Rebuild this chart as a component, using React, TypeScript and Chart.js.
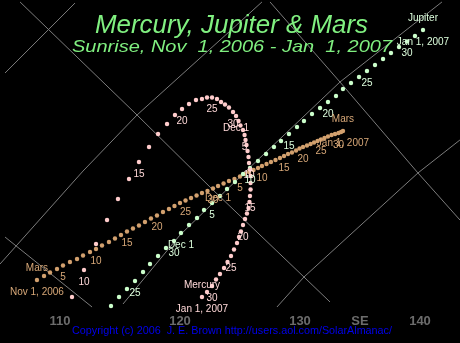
import React, { useEffect, useRef } from 'react';
import { Chart, registerables } from 'chart.js';

Chart.register(...registerables);

// Azimuth (deg) / altitude (deg) of each planet at sunrise, one point per day
// Mercury: Nov 9, 2006 .. Jan 1, 2007
const MERCURY_AZ = [
  111.0, 112.0, 113.0, 113.92, 114.83, 115.75, 116.58, 117.42, 118.17, 118.92, 119.58, 120.17,
  120.75, 121.33, 121.83, 122.25, 122.67, 123.08, 123.42, 123.75, 124.08, 124.42,
  124.67, 124.88, 125.04, 125.25, 125.38, 125.46, 125.54, 125.63, 125.71, 125.75, 125.83,
  125.88, 125.88, 125.88, 125.83, 125.79, 125.71, 125.58, 125.42, 125.25, 125.08, 124.92,
  124.75, 124.5, 124.25, 123.96, 123.67, 123.33, 123.0, 122.67, 122.25, 121.83,
];
const MERCURY_ALT = [
  1.33, 3.58, 5.75, 7.75, 9.5, 11.17, 12.58, 13.83, 14.92, 15.75, 16.5, 17.0,
  17.42, 17.75, 17.83, 17.96, 17.96, 17.83, 17.58, 17.38, 17.13, 16.75,
  16.42, 16.0, 15.63, 15.25, 14.83, 14.42, 14.0, 13.5, 13.0, 12.5, 11.96,
  11.42, 10.83, 10.29, 9.75, 9.25, 8.75, 8.29, 7.83, 7.33, 6.79, 6.33,
  5.83, 5.29, 4.75, 4.25, 3.75, 3.25, 2.79, 2.25, 1.75, 1.33,
];
// Jupiter: Nov 22, 2006 .. Jan 1, 2007
const JUPITER_AZ = [
  114.25, 114.92, 115.58, 116.25, 116.92, 117.5, 118.17, 118.83, 119.5,
  120.08, 120.75, 121.42, 122.0, 122.67, 123.33, 123.92, 124.58, 125.25, 125.83,
  126.5, 127.17, 127.83, 128.42, 129.08, 129.75, 130.33, 131.0, 131.67, 132.33,
  133.0, 133.58, 134.25, 134.92, 135.58, 136.25, 136.92, 137.58, 138.25, 138.92,
  139.58, 140.25,
];
const JUPITER_ALT = [
  0.58, 1.33, 2.0, 2.67, 3.42, 4.08, 4.75, 5.42, 6.0,
  6.67, 7.33, 7.92, 8.58, 9.17, 9.75, 10.33, 10.92, 11.58, 12.08,
  12.67, 13.25, 13.83, 14.33, 14.92, 15.5, 16.0, 16.58, 17.08, 17.58,
  18.08, 18.67, 19.17, 19.67, 20.17, 20.67, 21.17, 21.67, 22.17, 22.63,
  23.08, 23.58,
];
// Mars: Nov 1, 2006 .. Jan 1, 2007
const MARS_AZ = [
  108.08, 108.67, 109.17, 109.75, 110.25, 110.83, 111.42, 111.92, 112.5, 113.0,
  113.5, 114.08, 114.58, 115.08, 115.58, 116.08, 116.58, 117.08, 117.58, 118.08,
  118.58, 119.08, 119.54, 120.0, 120.46, 120.92, 121.38, 121.83, 122.29, 122.75,
  123.17, 123.63, 124.08, 124.54, 125.0, 125.38, 125.75, 126.13, 126.5, 126.83,
  127.21, 127.58, 127.96, 128.33, 128.67, 129.0, 129.33, 129.67, 129.96, 130.25,
  130.58, 130.88, 131.17, 131.46, 131.75, 132.04, 132.33, 132.63, 132.92, 133.21,
  133.42, 133.58,
];
const MARS_ALT = [
  2.75, 3.08, 3.38, 3.67, 3.96, 4.25, 4.5, 4.79, 5.08, 5.33,
  5.63, 5.92, 6.21, 6.5, 6.79, 7.04, 7.29, 7.58, 7.88, 8.13,
  8.42, 8.67, 8.92, 9.17, 9.38, 9.58, 9.79, 10.0, 10.17, 10.38,
  10.58, 10.79, 11.0, 11.17, 11.38, 11.58, 11.75, 11.92, 12.08, 12.25,
  12.42, 12.58, 12.75, 12.92, 13.08, 13.25, 13.38, 13.54, 13.71, 13.83,
  13.96, 14.08, 14.21, 14.33, 14.46, 14.58, 14.71, 14.83, 14.92, 15.0,
  15.08, 15.17,
];

// Date labels: [point index, text]
const MERCURY_LABELS: [number, string][] = [
  [1, '10'], [6, '15'], [11, '20'], [16, '25'], [21, '30'], [22, 'Dec 1'], [26, '5'],
  [31, '10'], [36, '15'], [41, '20'], [46, '25'], [51, '30'], [53, 'Jan 1, 2007'],
];
const JUPITER_LABELS: [number, string][] = [
  [3, '25'], [8, '30'], [9, 'Dec 1'], [13, '5'], [18, '10'], [23, '15'], [28, '20'],
  [33, '25'], [38, '30'], [40, 'Jan 1, 2007'],
];
const MARS_LABELS: [number, string][] = [
  [0, 'Nov 1, 2006'], [4, '5'], [9, '10'], [14, '15'], [19, '20'], [24, '25'], [29, '30'],
  [30, 'Dec 1'], [34, '5'], [39, '10'], [44, '15'], [49, '20'], [54, '25'], [59, '30'],
  [61, 'Jan 1, 2007'],
];
// Planet name labels: [point index]
const MERCURY_NAME_AT = [53];
const JUPITER_NAME_AT = [40];
const MARS_NAME_AT = [0, 61];

// Coordinate grid curves: [az, alt] vertices
const GRID_A: [number, number][] = [[106.67, 25.92], [116.42, 16.5], [122.75, 10.25], [130.33, 3.0], [132.5, 0.92]];
const GRID_B: [number, number][] = [[111.25, 25.83], [105.42, 20.0]];
const GRID_C: [number, number][] = [[126.83, 25.92], [124.17, 23.5], [116.42, 16.5], [111.92, 11.83], [105.0, 4.08]];
const GRID_D: [number, number][] = [[127.5, 25.92], [133.33, 19.25], [139.83, 11.67], [143.33, 7.75]];
const GRID_E: [number, number][] = [[141.83, 25.92], [133.33, 19.25], [125.42, 11.75], [120.0, 6.5], [115.25, 0.75]];
const GRID_F: [number, number][] = [[128.08, 0.5], [130.33, 3.0], [139.83, 11.67], [143.33, 14.42]];
const GRID_G: [number, number][] = [[105.42, 6.33], [112.67, 0.5]];

const X_TICKS = [110, 120, 130, 135, 140];
const X_TICK_LABELS = ['110', '120', '130', 'SE', '140'];

const TITLE = 'Mercury, Jupiter & Mars';
const SUBTITLE = 'Sunrise, Nov  1, 2006 - Jan  1, 2007';
const COPYRIGHT = 'Copyright (c) 2006  J. E. Brown http://users.aol.com/SolarAlmanac/';

const MERCURY_COLOR = '#ffcccc';
const JUPITER_COLOR = '#ccffcc';
const MARS_COLOR = '#d2a06e';

const pts = (az: number[], alt: number[]) => az.map((x, i) => ({ x, y: alt[i] }));
const linePts = (l: [number, number][]) => l.map(([x, y]) => ({ x, y }));

function fitText(ctx: CanvasRenderingContext2D, text: string, cx: number, baseline: number, width: number, font: string, color: string) {
  ctx.save();
  ctx.font = font;
  const w = ctx.measureText(text).width;
  ctx.translate(cx, baseline);
  ctx.scale(width / w, 1);
  ctx.textAlign = 'center';
  ctx.textBaseline = 'alphabetic';
  ctx.fillStyle = color;
  ctx.fillText(text, 0, 0);
  ctx.restore();
}

export default function App() {
  const ref = useRef<HTMLCanvasElement | null>(null);

  useEffect(() => {
    document.body.style.margin = '0';
    document.body.style.background = '#000';
    const canvas = ref.current;
    if (!canvas) return;

    const series = [
      { ds: 0, labels: MERCURY_LABELS, color: '#ffd8d8', name: 'Mercury', nameAt: MERCURY_NAME_AT },
      { ds: 1, labels: JUPITER_LABELS, color: '#ddffdd', name: 'Jupiter', nameAt: JUPITER_NAME_AT },
      { ds: 2, labels: MARS_LABELS, color: '#d8a878', name: 'Mars', nameAt: MARS_NAME_AT },
    ];

    const bgPlugin = {
      id: 'bg',
      beforeDraw(chart: any) {
        const c = chart.ctx;
        c.save();
        c.fillStyle = '#000';
        c.fillRect(0, 0, chart.width, chart.height);
        c.restore();
      },
    };

    const labelPlugin = {
      id: 'dateLabels',
      afterDatasetsDraw(chart: any) {
        const c = chart.ctx as CanvasRenderingContext2D;
        c.save();
        c.font = '10px "Liberation Sans"';
        c.textAlign = 'center';
        c.textBaseline = 'middle';
        for (const s of series) {
          const meta = chart.getDatasetMeta(s.ds);
          c.fillStyle = s.color;
          for (const [i, t] of s.labels) {
            const p = meta.data[i];
            if (p) c.fillText(t, p.x, p.y + 12);
          }
          for (const i of s.nameAt) {
            const p = meta.data[i];
            if (p) c.fillText(s.name, p.x, p.y - 12);
          }
        }
        c.restore();
      },
      afterDraw(chart: any) {
        const c = chart.ctx as CanvasRenderingContext2D;
        fitText(c, TITLE, 231.5, 33, 273, 'italic 25px "Liberation Sans"', '#80f080');
        fitText(c, SUBTITLE, 232, 52, 320, 'italic 17px "Liberation Sans"', '#80f080');
        fitText(c, COPYRIGHT, 232, 334, 320, '11px "Liberation Sans"', '#0000ee');
      },
    };

    const gridDs = (l: [number, number][]) => ({
      type: 'line' as const,
      data: linePts(l),
      showLine: true,
      borderColor: '#7c7c7c',
      borderWidth: 1,
      pointRadius: 0,
      tension: 0,
      fill: false,
    });

    const dotDs = (az: number[], alt: number[], color: string) => ({
      data: pts(az, alt),
      showLine: false,
      pointRadius: 2.2,
      pointBackgroundColor: color,
      pointBorderWidth: 0,
      pointStyle: 'circle',
    });

    const chart = new Chart(canvas, {
      type: 'scatter',
      data: {
        datasets: [
          dotDs(MERCURY_AZ, MERCURY_ALT, MERCURY_COLOR),
          dotDs(JUPITER_AZ, JUPITER_ALT, JUPITER_COLOR),
          dotDs(MARS_AZ, MARS_ALT, MARS_COLOR),
          gridDs(GRID_A),
          gridDs(GRID_B),
          gridDs(GRID_C),
          gridDs(GRID_D),
          gridDs(GRID_E),
          gridDs(GRID_F),
          gridDs(GRID_G),
        ] as any,
      },
      options: {
        responsive: false,
        animation: false,
        events: [],
        layout: { padding: 0, autoPadding: false },
        plugins: { legend: { display: false }, tooltip: { enabled: false }, title: { display: false } },
        scales: {
          x: {
            type: 'linear',
            min: 105,
            max: 143.333,
            grid: { display: false, drawTicks: false },
            border: { display: false },
            afterBuildTicks: (scale: any) => {
              scale.ticks = X_TICKS.map((v) => ({ value: v }));
            },
            afterFit: (scale: any) => {
              scale.height = 30;
            },
            ticks: {
              autoSkip: false,
              maxRotation: 0,
              padding: 1,
              color: '#6c6c6c',
              font: { family: '"Liberation Sans"', size: 13, weight: 'bold' },
              callback: (v: any) => {
                const i = X_TICKS.indexOf(Number(v));
                return i >= 0 ? X_TICK_LABELS[i] : '';
              },
            },
          },
          y: {
            type: 'linear',
            display: false,
            min: 0,
            max: 313 / 12,
          },
        },
      } as any,
      plugins: [bgPlugin, labelPlugin],
    });

    return () => chart.destroy();
  }, []);

  return (
    <canvas ref={ref} width={460} height={343} style={{ display: 'block', width: 460, height: 343 }} />
  );
}
